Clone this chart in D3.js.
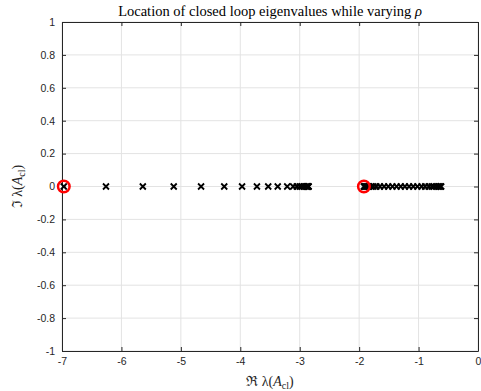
<!DOCTYPE html>
<html>
<head>
<meta charset="utf-8">
<script src="https://cdn.jsdelivr.net/npm/d3@7"></script>
<style>
  body { margin: 0; background: #fff; }
  svg { display: block; }
</style>
</head>
<body>
<div id="chart"></div>
<script>
// eigenvalue real parts as rho varies (imag parts all zero)
const branchA = [-6.97, -6.26, -5.64, -5.12, -4.66, -4.27, -3.97, -3.72, -3.53,
	-3.37, -3.21, -3.11, -3.05, -3.00, -2.96, -2.93, -2.90, -2.88, -2.87, -2.86, -2.855, -2.85];
const branchB = [-1.92, -1.91, -1.90, -1.89, -1.87, -1.85, -1.83, -1.80, -1.76, -1.71,
	-1.65, -1.58, -1.51, -1.44, -1.37, -1.30, -1.23, -1.16, -1.09, -1.02, -0.95, -0.89,
	-0.83, -0.78, -0.74, -0.70, -0.67, -0.65, -0.63, -0.62];
const circled = [-6.97, -1.92];
const xTicks = [-7, -6, -5, -4, -3, -2, -1, 0];
const yTicks = [-1, -0.8, -0.6, -0.4, -0.2, 0, 0.2, 0.4, 0.6, 0.8, 1];

const width = 481, height = 391;
const margin = { top: 22, right: 3, bottom: 40, left: 62 };
const w = width - margin.left - margin.right;
const h = height - margin.top - margin.bottom;

const x = d3.scaleLinear().domain([-7, 0]).range([0, w]);
const y = d3.scaleLinear().domain([-1, 1]).range([h, 0]);

const svg = d3.select('#chart').append('svg')
	.attr('width', width).attr('height', height);
const g = svg.append('g')
	.attr('transform', `translate(${margin.left},${margin.top})`);

// grid
g.append('g').selectAll('line').data(xTicks).join('line')
	.attr('x1', d => x(d)).attr('x2', d => x(d))
	.attr('y1', 0).attr('y2', h)
	.attr('stroke', '#e3e3e3').attr('stroke-width', 1);
g.append('g').selectAll('line').data(yTicks).join('line')
	.attr('y1', d => y(d)).attr('y2', d => y(d))
	.attr('x1', 0).attr('x2', w)
	.attr('stroke', '#e3e3e3').attr('stroke-width', 1);

// axes (plain hyphen minus like the original)
const fmt = d => String(+d.toFixed(1));
function styleAxis(sel) {
	sel.select('.domain').attr('stroke', '#262626');
	sel.selectAll('.tick line').attr('stroke', '#262626');
	sel.selectAll('.tick text').attr('fill', '#262626')
		.style('font-family', '"Liberation Sans", Arial, sans-serif')
		.style('font-size', '10.5px');
}
g.append('g').attr('transform', `translate(0,${h})`)
	.call(d3.axisBottom(x).tickValues(xTicks).tickFormat(fmt).tickSizeInner(-4).tickSizeOuter(0).tickPadding(7))
	.call(styleAxis);
g.append('g')
	.call(d3.axisTop(x).tickValues(xTicks).tickFormat('').tickSizeInner(-4).tickSizeOuter(0))
	.call(styleAxis);
g.append('g')
	.call(d3.axisLeft(y).tickValues(yTicks).tickFormat(fmt).tickSizeInner(-4).tickSizeOuter(0).tickPadding(7))
	.call(styleAxis);
g.append('g').attr('transform', `translate(${w},0)`)
	.call(d3.axisRight(y).tickValues(yTicks).tickFormat('').tickSizeInner(-4).tickSizeOuter(0))
	.call(styleAxis);

// eigenvalue markers
const pts = branchA.concat(branchB);
g.append('g').selectAll('path').data(pts).join('path')
	.attr('transform', d => `translate(${x(d)},${y(0)})`)
	.attr('d', 'M-3,-3L3,3M-3,3L3,-3')
	.attr('stroke', '#000').attr('stroke-width', 1.8).attr('fill', 'none');

g.append('g').selectAll('circle').data(circled).join('circle')
	.attr('cx', d => x(d)).attr('cy', y(0)).attr('r', 5.8)
	.attr('fill', 'none').attr('stroke', '#ff0000').attr('stroke-width', 2.5);

// labels
const serif = '"Liberation Serif", "Times New Roman", serif';
svg.append('text')
	.attr('x', margin.left + w / 2).attr('y', 16)
	.attr('text-anchor', 'middle')
	.style('font-family', serif).style('font-size', '14.5px').attr('fill', '#000')
	.text('Location of closed loop eigenvalues while varying ')
	.append('tspan').style('font-style', 'italic').text('ρ');

function mathLabel(sel, sym) {
	sel.append('tspan').text(sym + ' λ(');
	sel.append('tspan').style('font-style', 'italic').text('A');
	sel.append('tspan').attr('dy', 3).style('font-size', '10px').text('cl');
	sel.append('tspan').attr('dy', -3).text(')');
}
svg.append('text')
	.attr('x', margin.left + w / 2).attr('y', 386)
	.attr('text-anchor', 'middle')
	.style('font-family', serif).style('font-size', '14px').attr('fill', '#262626')
	.call(mathLabel, 'ℜ');

svg.append('text')
	.attr('transform', `translate(22,${margin.top + h / 2}) rotate(-90)`)
	.attr('text-anchor', 'middle')
	.style('font-family', serif).style('font-size', '14px').attr('fill', '#262626')
	.call(mathLabel, 'ℑ');
</script>
</body>
</html>
